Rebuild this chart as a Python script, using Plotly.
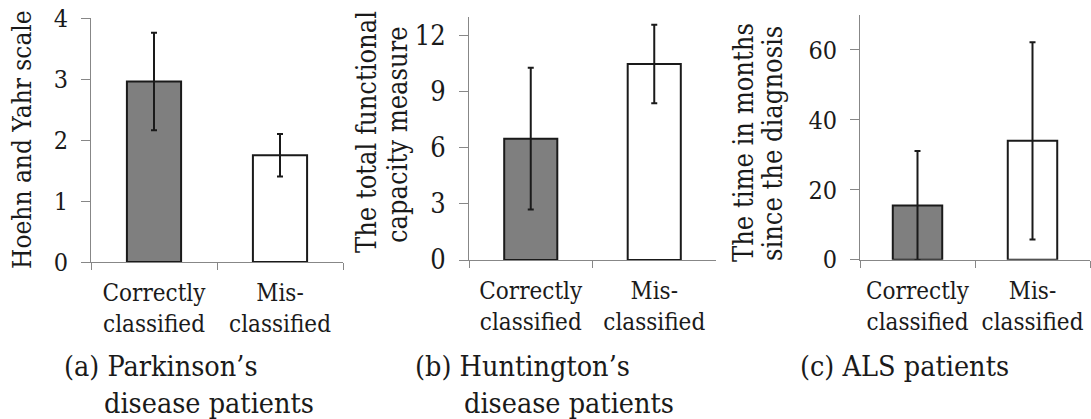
import plotly.graph_objects as go

# ---- data -------------------------------------------------------------
categories = ["Correctly<br>classified", "Mis-<br>classified"]

pd_mean = [2.96, 1.75]      # Hoehn and Yahr scale
pd_sd = [0.80, 0.35]
hd_mean = [6.5, 10.5]       # total functional capacity
hd_sd = [3.8, 2.1]
als_mean = [15.5, 34.0]     # months since diagnosis
als_sd = [15.6, 28.2]

pd_ticks = [0, 1, 2, 3, 4]
hd_ticks = [0, 3, 6, 9, 12]
als_ticks = [0, 20, 40, 60]

bar_fill = ["#7f7f7f", "#ffffff"]

# ---- layout helpers ---------------------------------------------------
W, H = 1091, 419
SERIF = "DejaVu Serif Condensed"
INK = "#1a1a1a"
AXIS = "#878787"


def px(x):
    return x / W


def py(y):
    return 1 - y / H


# pixel boxes of the three plot areas: (left, right, top, bottom)
boxes = [(91, 343, 18, 262), (469, 716, 17.3, 260), (860, 1090, 15, 259.7)]
ranges = [[0, 4], [0, 13], [0, 70]]
tick_sets = [pd_ticks, hd_ticks, als_ticks]
tick_font = [25, 27, 25]
panels = [(pd_mean, pd_sd), (hd_mean, hd_sd), (als_mean, als_sd)]

fig = go.Figure()

for i, (means, sds) in enumerate(panels):
    n = "" if i == 0 else str(i + 1)
    fig.add_trace(go.Bar(
        x=categories, y=means,
        xaxis="x" + n, yaxis="y" + n,
        marker=dict(color=bar_fill, line=dict(color=INK, width=2)),
        error_y=dict(type="data", array=sds, visible=True,
                     color=INK, thickness=2, width=3),
        showlegend=False,
    ))
    l, r, t, b = boxes[i]
    fig.update_layout({
        "xaxis" + n: dict(
            domain=[px(l), px(r)], anchor="y" + n, automargin=False,
            showline=True, linecolor=AXIS, linewidth=1,
            ticks="outside", tickson="boundaries", ticklen=7,
            tickcolor=AXIS, tickwidth=1,
            tickfont=dict(family=SERIF, size=24, color=INK),
            ticklabelstandoff=9,
            showgrid=False, zeroline=False, fixedrange=True,
        ),
        "yaxis" + n: dict(
            domain=[py(b), py(t)], anchor="x" + n, automargin=False,
            range=ranges[i], tickvals=tick_sets[i],
            showline=True, linecolor=AXIS, linewidth=1,
            ticks="outside", ticklen=9, tickcolor=AXIS, tickwidth=1,
            tickfont=dict(family=SERIF, size=tick_font[i], color=INK),
            ticklabelstandoff=8,
            showgrid=False, zeroline=False, fixedrange=True,
        ),
    })

# rotated y-axis titles, one annotation per line
y_titles = [
    [("Hoehn and Yahr scale", 22, 140, 26)],
    [("The total functional", 366, 132, 27), ("capacity measure", 398, 135, 27)],
    [("The time in months", 743, 143, 27), ("since the diagnosis", 772, 144, 27)],
]
annotations = []
for lines in y_titles:
    for text, x, y, size in lines:
        annotations.append(dict(
            text=text, x=px(x), y=py(y), xref="paper", yref="paper",
            xanchor="center", yanchor="middle", textangle=-90,
            showarrow=False, font=dict(family=SERIF, size=size, color=INK),
        ))

# panel captions
captions = [
    ("(a) Parkinson’s", 62, "disease patients", 102),
    ("(b) Huntington’s", 413, "disease patients", 462),
    ("(c) ALS patients", 798, None, None),
]
for first, x1, second, x2 in captions:
    annotations.append(dict(
        text=first, x=px(x1), y=py(366), xref="paper", yref="paper",
        xanchor="left", yanchor="middle", showarrow=False,
        font=dict(family=SERIF, size=28.5, color=INK),
    ))
    if second:
        annotations.append(dict(
            text=second, x=px(x2), y=py(403), xref="paper", yref="paper",
            xanchor="left", yanchor="middle", showarrow=False,
            font=dict(family=SERIF, size=28.5, color=INK),
        ))

fig.update_layout(
    template="none",
    width=W, height=H,
    margin=dict(l=0, r=0, t=0, b=0, pad=0),
    paper_bgcolor="white", plot_bgcolor="white",
    bargap=0.57,
    annotations=annotations,
)

fig.write_html("out.html", config={"displayModeBar": False})
